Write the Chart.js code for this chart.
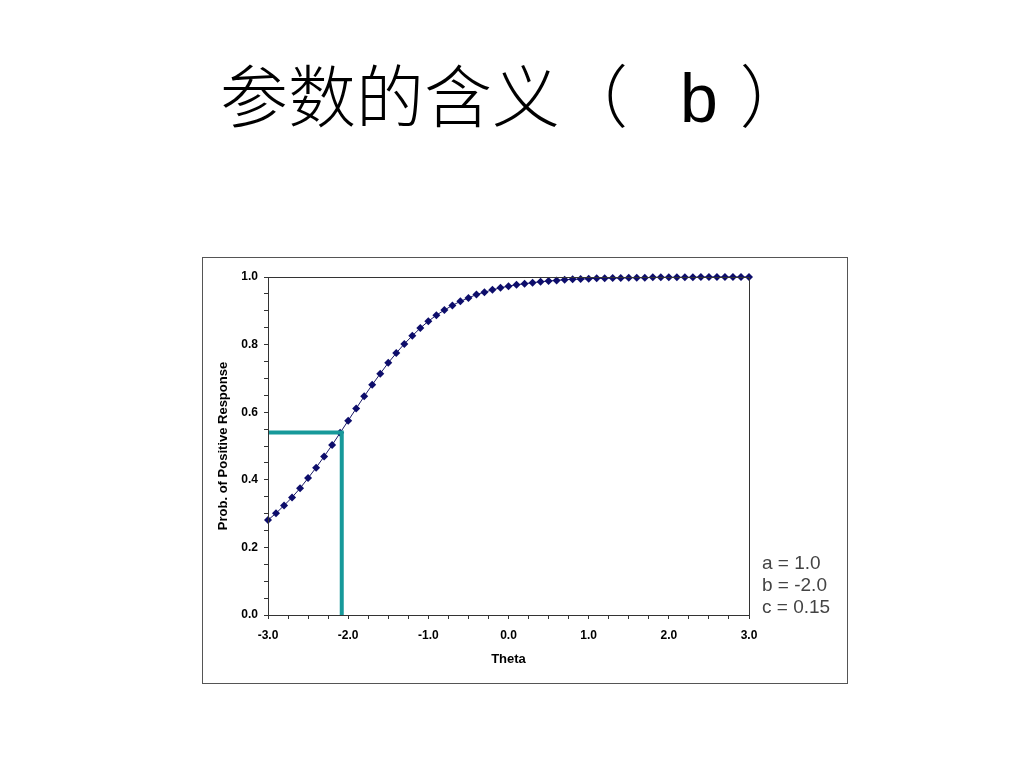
<!DOCTYPE html>
<html>
<head>
<meta charset="utf-8">
<script src="https://cdn.jsdelivr.net/npm/chart.js@4"></script>
<style>
  body { margin: 0; background: #fff; width: 1024px; height: 768px; position: relative; overflow: hidden; }
  #title {
    position: absolute; left: 220px; top: 60px;
    font-family: "Liberation Sans", "Noto Sans CJK SC", sans-serif;
    font-size: 68px; line-height: 76px; font-weight: 300; color: #000; white-space: nowrap;
  }
  #title .b { margin-left: 52px; }
  #title .close { margin-left: 22px; }
  #box {
    position: absolute; left: 202px; top: 257px; width: 644px; height: 425px;
    border: 1px solid #555;
  }
</style>
</head>
<body>
<div id="title">参数的含义（<span class="b">b</span><span class="close">）</span></div>
<div id="box"><canvas id="icc" width="644" height="425"></canvas></div>
<script>
// item parameters shown in the corner
const paramLabels = ['a = 1.0', 'b = -2.0', 'c = 0.15'];

// theta values along the curve
const theta = [
  -3.0, -2.9, -2.8, -2.7, -2.6, -2.5, -2.4, -2.3, -2.2, -2.1,
  -2.0, -1.9, -1.8, -1.7, -1.6, -1.5, -1.4, -1.3, -1.2, -1.1,
  -1.0, -0.9, -0.8, -0.7, -0.6, -0.5, -0.4, -0.3, -0.2, -0.1,
   0.0,  0.1,  0.2,  0.3,  0.4,  0.5,  0.6,  0.7,  0.8,  0.9,
   1.0,  1.1,  1.2,  1.3,  1.4,  1.5,  1.6,  1.7,  1.8,  1.9,
   2.0,  2.1,  2.2,  2.3,  2.4,  2.5,  2.6,  2.7,  2.8,  2.9, 3.0
];

// probability of positive response
const prob = [
  0.281, 0.301, 0.324, 0.348, 0.375, 0.405, 0.436, 0.469, 0.503, 0.539,
  0.575, 0.611, 0.647, 0.681, 0.714, 0.746, 0.775, 0.802, 0.826, 0.849,
  0.869, 0.887, 0.902, 0.916, 0.928, 0.938, 0.948, 0.955, 0.962, 0.968,
  0.973, 0.977, 0.980, 0.983, 0.986, 0.988, 0.990, 0.992, 0.993, 0.994,
  0.995, 0.996, 0.996, 0.997, 0.997, 0.998, 0.998, 0.998, 0.999, 0.999,
  0.999, 0.999, 0.999, 0.999, 1.000, 1.000, 1.000, 1.000, 1.000, 1.000, 1.000
];

// teal guide lines (theta, prob)
const guideX = [-3.0, -2.08, -2.08];
const guideY = [0.54, 0.54, 0.0];

const xTicks = ['-3.0', '-2.0', '-1.0', '0.0', '1.0', '2.0', '3.0'];
const yTicks = ['0.0', '0.2', '0.4', '0.6', '0.8', '1.0'];

const tickFont = { family: 'Liberation Sans', size: 12, weight: 'bold' };
const titleFont = { family: 'Liberation Sans', size: 13, weight: 'bold' };

// frame round the plot area plus the parameter text
const framePlugin = {
  id: 'frame',
  afterDraw(chart) {
    const ctx = chart.ctx, a = chart.chartArea;
    ctx.save();
    ctx.strokeStyle = '#333';
    ctx.lineWidth = 1;
    ctx.strokeRect(a.left + 0.5, a.top + 0.5, a.right - a.left, a.bottom - a.top);
    ctx.fillStyle = '#444';
    ctx.font = '19px "Liberation Sans"';
    ctx.textBaseline = 'middle';
    paramLabels.forEach((t, i) => {
      ctx.fillText(t, a.right + 13, 306 + i * 22);
    });
    ctx.restore();
  }
};

new Chart(document.getElementById('icc'), {
  type: 'scatter',
  data: {
    datasets: [
      {
        data: guideX.map((x, i) => ({ x: x, y: guideY[i] })),
        showLine: true,
        borderColor: '#17999a',
        borderWidth: 4,
        pointRadius: 0,
        order: 0
      },
      {
        data: theta.map((t, i) => ({ x: t, y: prob[i] })),
        showLine: true,
        borderColor: '#1a1a66',
        borderWidth: 1,
        pointStyle: 'rectRot',
        pointRadius: 4,
        pointBackgroundColor: '#0d0d6b',
        pointBorderColor: '#0d0d6b',
        pointBorderWidth: 0,
        clip: false,
        order: 1
      }
    ]
  },
  plugins: [framePlugin],
  options: {
    responsive: false,
    animation: false,
    layout: { padding: { top: 19, right: 98, left: 13, bottom: 16 } },
    plugins: { legend: { display: false }, tooltip: { enabled: false } },
    scales: {
      x: {
        type: 'linear', min: -3, max: 3,
        afterFit: s => { s.height = 52; },
        afterBuildTicks: s => { s.ticks = Array.from({ length: 25 }, (_, i) => ({ value: -3 + i * 0.25 })); },
        ticks: {
          autoSkip: false, maxRotation: 0, color: '#000', font: tickFont, padding: 9,
          callback: v => {
            const k = Math.round(v * 4);
            return k % 4 === 0 ? xTicks[k / 4 + 3] : '';
          }
        },
        grid: { drawOnChartArea: false, drawTicks: true, tickLength: 4, color: '#333' },
        border: { color: '#333' },
        title: { display: true, text: 'Theta', color: '#000', font: titleFont, padding: { top: 4, bottom: 0 } }
      },
      y: {
        min: 0, max: 1,
        afterFit: s => { s.width = 52; },
        afterBuildTicks: s => { s.ticks = Array.from({ length: 21 }, (_, i) => ({ value: i * 0.05 })); },
        ticks: {
          autoSkip: false, color: '#000', font: tickFont, padding: 6,
          callback: v => {
            const k = Math.round(v * 20);
            return k % 4 === 0 ? yTicks[k / 4] : '';
          }
        },
        grid: { drawOnChartArea: false, drawTicks: true, tickLength: 4, color: '#333' },
        border: { color: '#333' },
        title: { display: true, text: 'Prob. of Positive Response', color: '#000', font: titleFont, padding: { top: 0, bottom: 0 } }
      }
    }
  }
});
</script>
</body>
</html>
